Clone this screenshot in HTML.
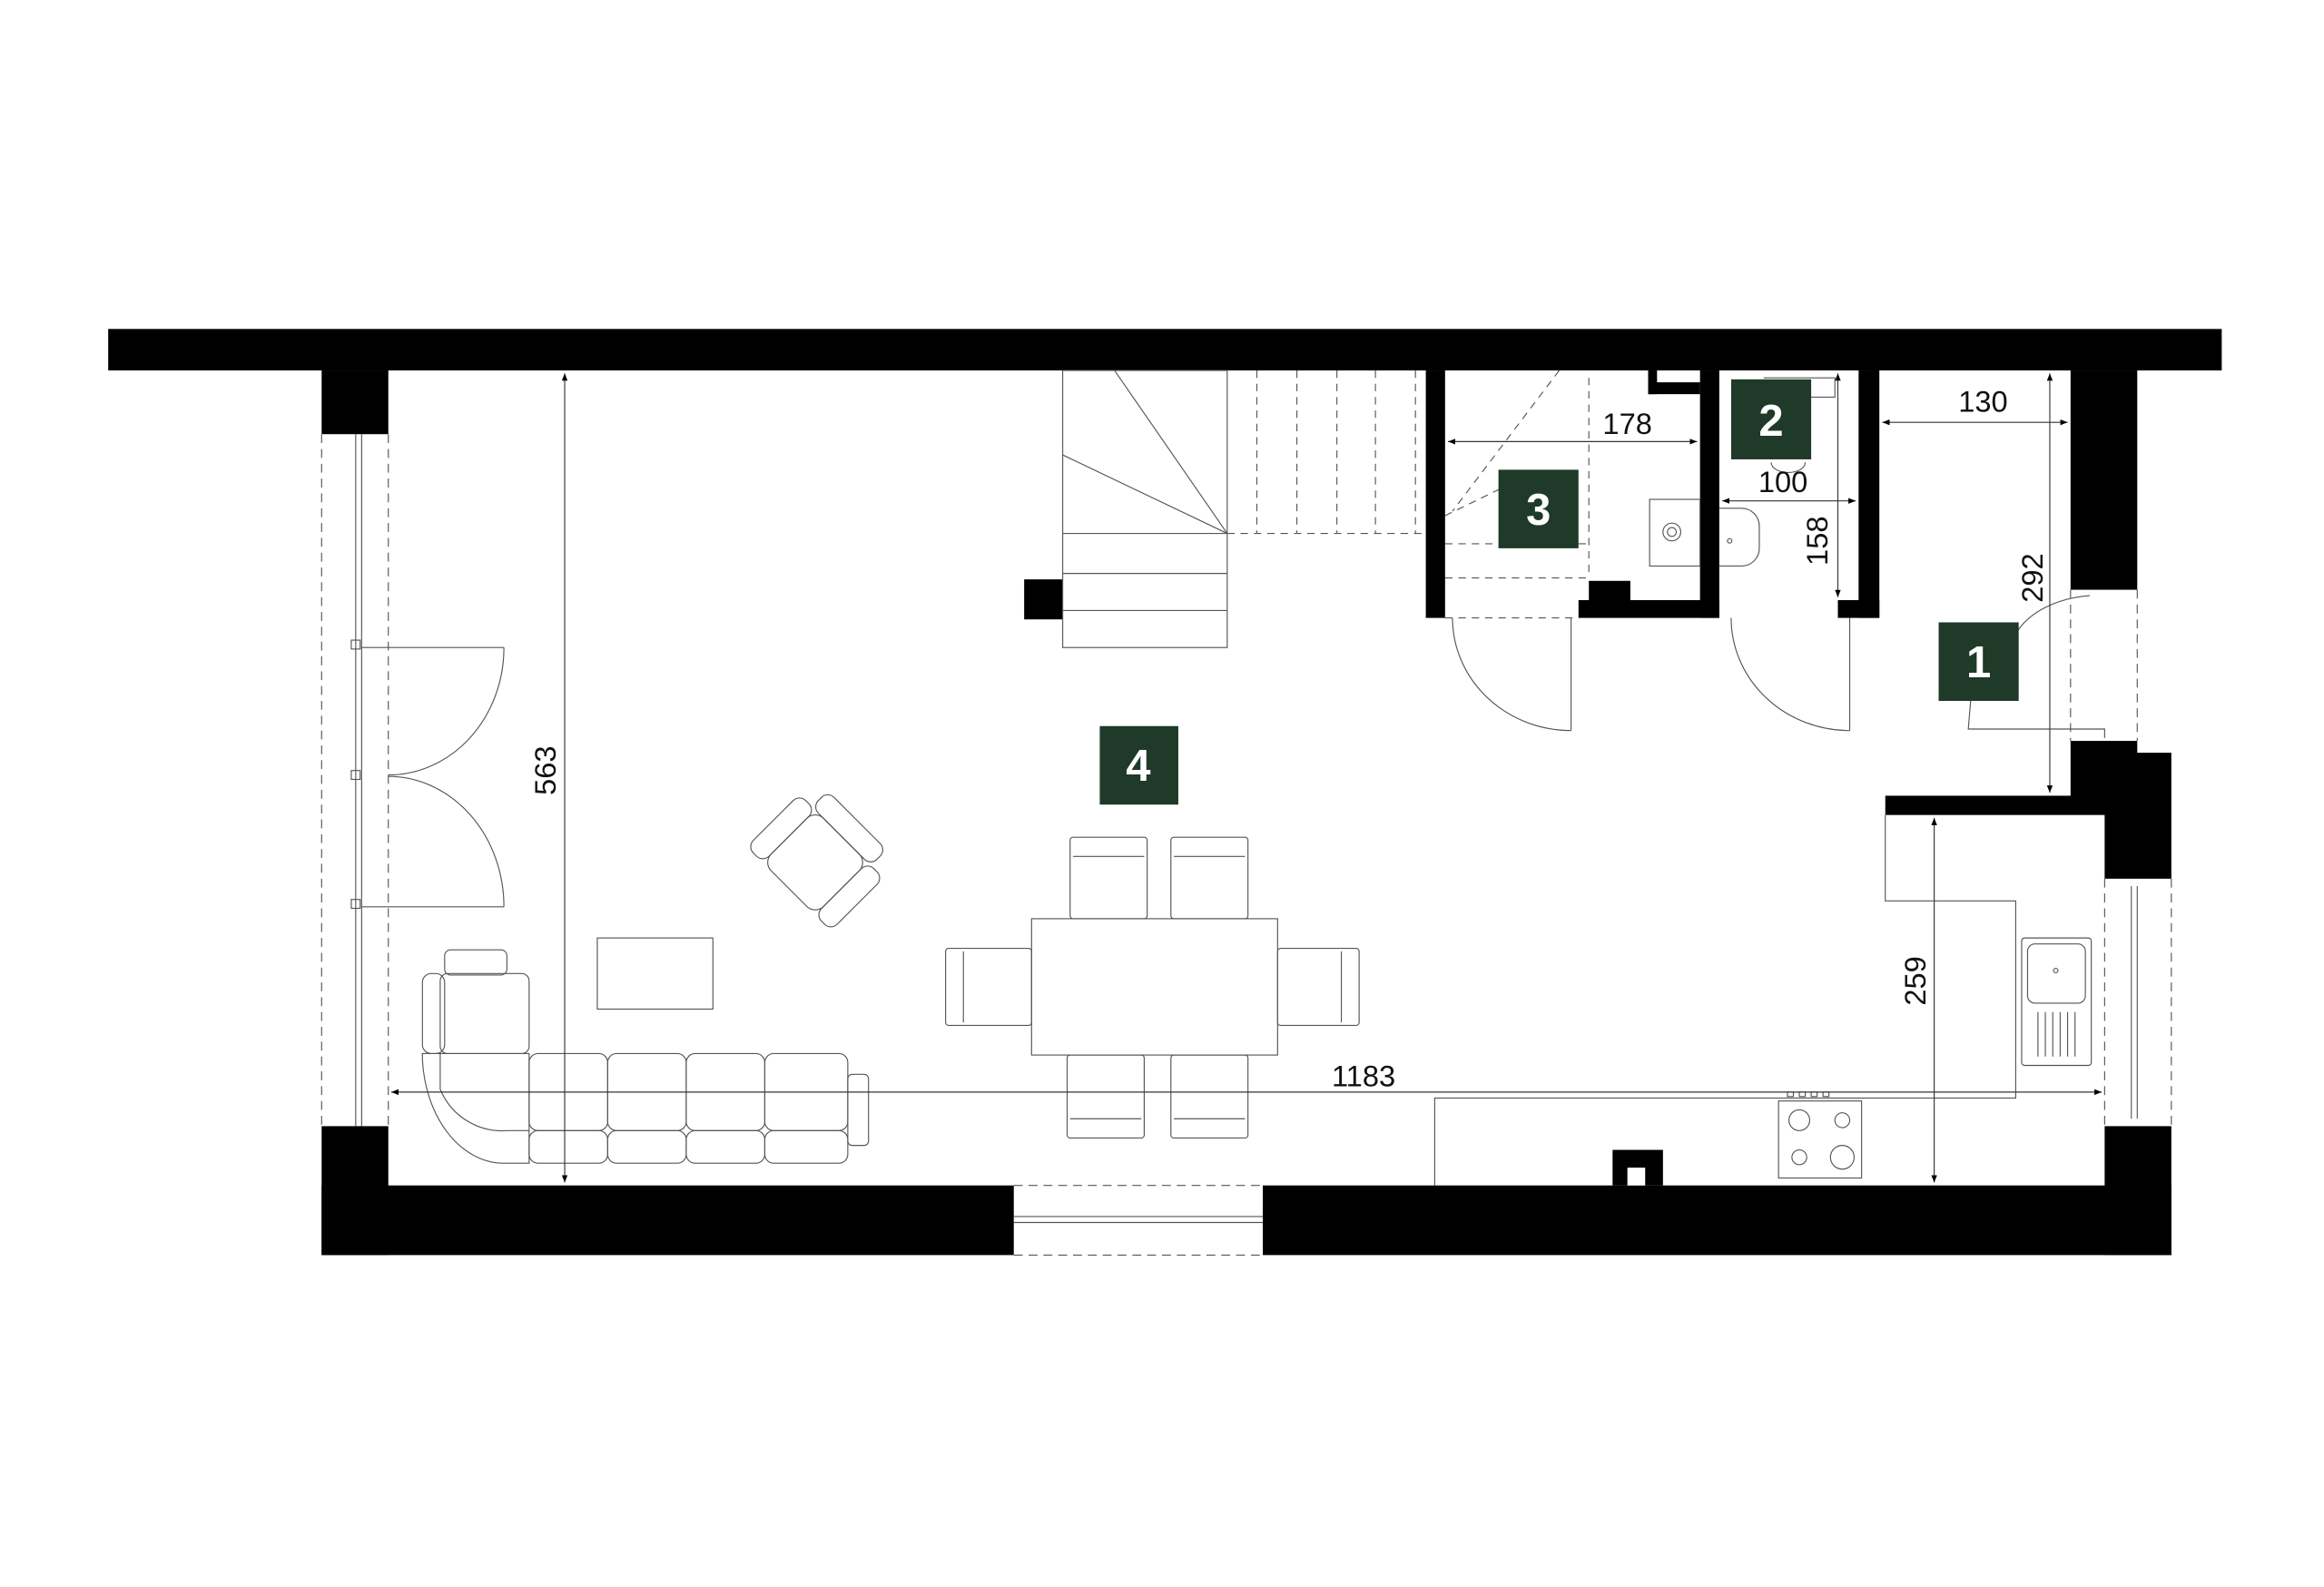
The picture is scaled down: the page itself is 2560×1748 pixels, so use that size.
<!DOCTYPE html>
<html><head><meta charset="utf-8"><style>
html,body{margin:0;padding:0;background:#fff;}
svg{display:block;}
text{font-family:"Liberation Sans",sans-serif;}
</style></head><body>
<svg width="2560" height="1748" viewBox="0 0 1568 1071" preserveAspectRatio="none" xmlns="http://www.w3.org/2000/svg">
<defs>
<marker id="ar" viewBox="0 0 10 10" refX="10" refY="5" markerWidth="7" markerHeight="7" orient="auto-start-reverse"><path d="M0,1 L10,5 L0,9z" fill="#000"/></marker>
</defs>
<g fill="#000">
<rect x="73" y="222" width="1426" height="28"/>
<rect x="217" y="250" width="45" height="43"/>
<rect x="217" y="760" width="45" height="87"/>
<rect x="217" y="800" width="467" height="47"/>
<rect x="852" y="800" width="613" height="47"/>
<rect x="1420" y="760" width="45" height="87"/>
<rect x="1397" y="250" width="45" height="148"/>
<rect x="1397" y="500" width="45" height="40"/>
<rect x="1420" y="508" width="45" height="85"/>
<rect x="1272" y="537" width="150" height="13"/>
<rect x="962" y="250" width="13" height="167"/>
<rect x="1147" y="250" width="13" height="167"/>
<rect x="1254" y="250" width="14" height="167"/>
<rect x="1065" y="405" width="95" height="12"/>
<rect x="1072" y="392" width="28" height="14"/>
<rect x="1240" y="405" width="28" height="12"/>
<rect x="1112" y="250" width="6" height="16"/>
<rect x="1112" y="258" width="35" height="8"/>
<rect x="691" y="391" width="26" height="27"/>
<rect x="1088" y="776" width="34" height="24"/>
</g>
<rect x="1098" y="788" width="12" height="12" fill="#fff"/>
<g fill="none" stroke="#555" stroke-width="0.7">
<line x1="217" y1="293" x2="217" y2="760" stroke-dasharray="6,4"/>
<line x1="262" y1="293" x2="262" y2="760" stroke-dasharray="6,4"/>
<line x1="240" y1="293" x2="240" y2="760"/><line x1="244" y1="293" x2="244" y2="760"/>
<rect x="237" y="432" width="6" height="6"/><rect x="237" y="520" width="6" height="6"/><rect x="237" y="607" width="6" height="6"/>
<line x1="244" y1="437" x2="340" y2="437"/><path d="M340,437 A78,86 0 0 1 262,523"/>
<line x1="244" y1="612" x2="340" y2="612"/><path d="M262,524 A78,88 0 0 1 340,612"/>
<line x1="684" y1="800" x2="852" y2="800" stroke-dasharray="6,4"/>
<line x1="684" y1="847" x2="852" y2="847" stroke-dasharray="6,4"/>
<line x1="684" y1="821" x2="852" y2="821"/><line x1="684" y1="825" x2="852" y2="825"/>
<line x1="1420" y1="593" x2="1420" y2="760" stroke-dasharray="6,4"/>
<line x1="1465" y1="593" x2="1465" y2="760" stroke-dasharray="6,4"/>
<line x1="1438" y1="598" x2="1438" y2="755"/><line x1="1442" y1="598" x2="1442" y2="755"/>
<line x1="1397" y1="398" x2="1397" y2="500" stroke-dasharray="6,4"/>
<line x1="1442" y1="398" x2="1442" y2="500" stroke-dasharray="6,4"/>
<path d="M1360,428 A60,40 0 0 1 1410,402"/>
<polyline points="1330,468 1328,492 1420,492 1420,498"/>
<rect x="717" y="250" width="111" height="187"/>
<line x1="752" y1="250" x2="828" y2="360"/>
<line x1="717" y1="307" x2="828" y2="360"/>
<line x1="717" y1="360" x2="828" y2="360"/>
<line x1="717" y1="387" x2="828" y2="387"/>
<line x1="717" y1="412" x2="828" y2="412"/>
<g stroke-dasharray="5,4">
<line x1="848" y1="250" x2="848" y2="360"/><line x1="875" y1="250" x2="875" y2="360"/>
<line x1="902" y1="250" x2="902" y2="360"/><line x1="928" y1="250" x2="928" y2="360"/>
<line x1="955" y1="250" x2="955" y2="360"/>
<line x1="828" y1="360" x2="962" y2="360"/>
<line x1="1052" y1="250" x2="980" y2="345"/>
<line x1="975" y1="348" x2="1012" y2="330"/>
<line x1="975" y1="367" x2="1072" y2="367"/>
<line x1="975" y1="390" x2="1072" y2="390"/>
<line x1="1072" y1="255" x2="1072" y2="390"/>
<line x1="975" y1="417" x2="1065" y2="417"/>
</g>
<line x1="1060" y1="417" x2="1060" y2="493"/><path d="M980,417 A80,76 0 0 0 1060,493"/>
<line x1="1248" y1="417" x2="1248" y2="493"/><path d="M1168,417 A80,76 0 0 0 1248,493"/>
<rect x="1113" y="337" width="34" height="45"/><circle cx="1128" cy="359" r="6"/><circle cx="1128" cy="359" r="3"/>
<path d="M1160,343 L1175,343 A12,12 0 0 1 1187,355 L1187,370 A12,12 0 0 1 1175,382 L1160,382"/><circle cx="1167" cy="365" r="1.5"/>
<path d="M1190,255 L1238,255 L1238,268 L1222,268"/>
<path d="M1195,312 A10,6 0 0 0 1218,312"/>
<rect x="403" y="633" width="78" height="48"/>
<rect x="696" y="620" width="166" height="92"/>
<rect x="722" y="565" width="52" height="55" rx="2"/><line x1="724" y1="578" x2="772" y2="578"/>
<rect x="790" y="565" width="52" height="55" rx="2"/><line x1="792" y1="578" x2="840" y2="578"/>
<rect x="720" y="712" width="52" height="56" rx="2"/><line x1="722" y1="755" x2="770" y2="755"/>
<rect x="790" y="712" width="52" height="56" rx="2"/><line x1="792" y1="755" x2="840" y2="755"/>
<rect x="638" y="640" width="58" height="52" rx="2"/><line x1="650" y1="642" x2="650" y2="690"/>
<rect x="862" y="640" width="55" height="52" rx="2"/><line x1="905" y1="642" x2="905" y2="690"/>
<g transform="translate(550,582) rotate(45)">
<rect x="-25" y="-25" width="50" height="50" rx="8"/>
<rect x="-28" y="-40" width="56" height="15" rx="6"/>
<rect x="-40" y="-25" width="15" height="50" rx="6"/>
<rect x="25" y="-25" width="15" height="50" rx="6"/>
</g>
<rect x="300" y="641" width="42" height="17" rx="4"/>
<rect x="297" y="657" width="60" height="54" rx="5"/>
<rect x="285" y="657" width="15" height="54" rx="6"/>
<path d="M297,711 L297,735 A45,45 0 0 0 342,763 L357,763 L357,785 L340,785 A55,75 0 0 1 285,715 L285,711z"/>
<path d="M297,711 L357,711 L357,763"/>
<rect x="357" y="711" width="53" height="52" rx="6"/><rect x="410" y="711" width="53" height="52" rx="6"/>
<rect x="463" y="711" width="53" height="52" rx="6"/><rect x="516" y="711" width="56" height="52" rx="6"/>
<rect x="357" y="763" width="53" height="22" rx="6"/><rect x="410" y="763" width="53" height="22" rx="6"/>
<rect x="463" y="763" width="53" height="22" rx="6"/><rect x="516" y="763" width="56" height="22" rx="6"/>
<rect x="572" y="725" width="14" height="48" rx="3"/>
<polyline points="1272,550 1272,608 1360,608 1360,741 968,741 968,800"/>
<rect x="1364" y="633" width="47" height="86" rx="2"/><rect x="1368" y="637" width="39" height="40" rx="5"/><circle cx="1387" cy="655" r="1.5"/>
<g><line x1="1375" y1="683" x2="1375" y2="713"/><line x1="1380" y1="683" x2="1380" y2="713"/><line x1="1385" y1="683" x2="1385" y2="713"/><line x1="1390" y1="683" x2="1390" y2="713"/><line x1="1395" y1="683" x2="1395" y2="713"/><line x1="1400" y1="683" x2="1400" y2="713"/></g>
<rect x="1200" y="743" width="56" height="52"/>
<circle cx="1214" cy="756" r="7"/><circle cx="1243" cy="756" r="5"/><circle cx="1214" cy="781" r="5"/><circle cx="1243" cy="781" r="8"/>
<rect x="1206" y="737" width="4" height="3"/><rect x="1214" y="737" width="4" height="3"/><rect x="1222" y="737" width="4" height="3"/><rect x="1230" y="737" width="4" height="3"/>
</g>
<g stroke="#333" stroke-width="0.7" fill="none">
<line x1="381" y1="252" x2="381" y2="798" marker-start="url(#ar)" marker-end="url(#ar)"/>
<line x1="264" y1="737" x2="1418" y2="737" marker-start="url(#ar)" marker-end="url(#ar)"/>
<line x1="1305" y1="552" x2="1305" y2="798" marker-start="url(#ar)" marker-end="url(#ar)"/>
<line x1="1383" y1="252" x2="1383" y2="535" marker-start="url(#ar)" marker-end="url(#ar)"/>
<line x1="977" y1="298" x2="1145" y2="298" marker-start="url(#ar)" marker-end="url(#ar)"/>
<line x1="1162" y1="338" x2="1252" y2="338" marker-start="url(#ar)" marker-end="url(#ar)"/>
<line x1="1240" y1="252" x2="1240" y2="403" marker-start="url(#ar)" marker-end="url(#ar)"/>
<line x1="1270" y1="285" x2="1395" y2="285" marker-start="url(#ar)" marker-end="url(#ar)"/>
</g>
<g font-size="20" fill="#111" text-anchor="middle">
<text x="920" y="733">1183</text>
<text x="1098" y="293">178</text>
<text x="1203" y="332">100</text>
<text x="1338" y="278">130</text>
<text transform="translate(375,520) rotate(-90)">563</text>
<text transform="translate(1299,662) rotate(-90)">259</text>
<text transform="translate(1378,390) rotate(-90)">292</text>
<text transform="translate(1233,365) rotate(-90)">158</text>
</g>
<g fill="#1f3a28">
<rect x="742" y="490" width="53" height="53"/>
<rect x="1011" y="317" width="54" height="53"/>
<rect x="1168" y="256" width="54" height="54"/>
<rect x="1308" y="420" width="54" height="53"/>
</g>
<g fill="#fff" font-size="30" font-weight="bold" text-anchor="middle">
<text x="768" y="527">4</text>
<text x="1038" y="354">3</text>
<text x="1195" y="294">2</text>
<text x="1335" y="457">1</text>
</g>
</svg>
</body></html>
